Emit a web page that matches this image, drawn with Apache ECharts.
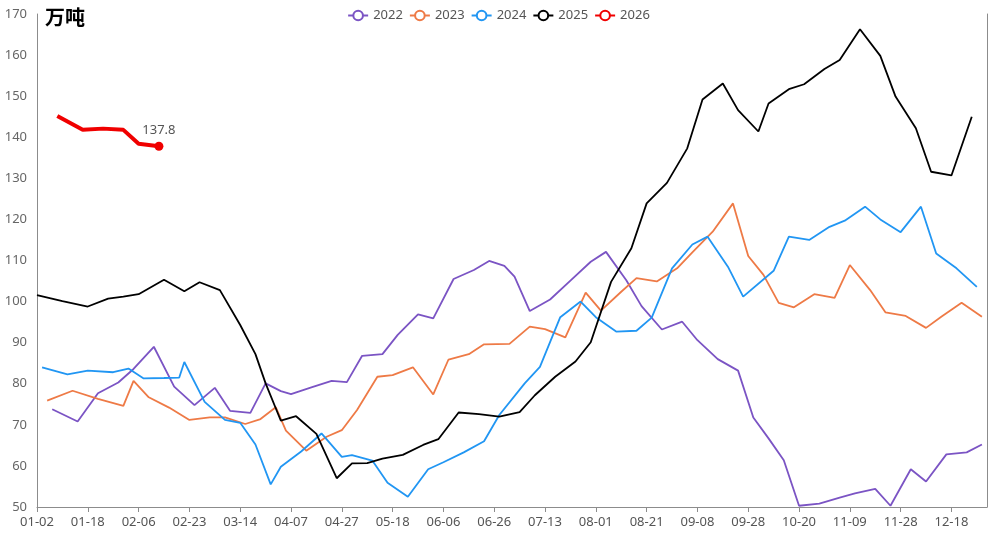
<!DOCTYPE html>
<html>
<head>
<meta charset="utf-8">
<script src="https://cdn.jsdelivr.net/npm/echarts@6/dist/echarts.min.js"></script>
<style>
html,body{margin:0;padding:0;background:#fff;}
#chart{width:997px;height:535px;}
</style>
</head>
<body>
<div id="chart"></div>
<script>
// ---- tick labels on the category axis (every 10th category) ----
const tickLabels = ['01-02','01-18','02-06','02-23','03-14','04-07','04-27','05-18','06-06','06-26',
  '07-13','08-01','08-21','09-08','09-28','10-20','11-09','11-28','12-18'];
const yearEnd = '12-31';
const CAT_COUNT = 188;
const LABEL_STEP = 10;

// ---- series: category positions and values ----
const idx2022 = [3,8,12,16,19,23,27,31,35,38,42,45,48,50,54,58,61,64,68,71,75,78,82,86,89,92,94,97,101,105,109,112,116,119,123,127,130,134,138,141,144,147,150,154,158,161,165,168,172,175,179,183,186];
const val2022 = [73.8,70.8,77.7,80.3,83.6,89.0,79.3,74.8,79.0,73.4,72.9,80.1,78.2,77.5,79.1,80.7,80.4,86.8,87.2,91.9,96.9,95.9,105.5,107.7,109.9,108.7,106.1,97.7,100.5,105.1,109.7,112.1,105.2,98.9,93.2,95.1,90.6,86.0,83.2,71.8,66.7,61.4,50.3,50.8,52.3,53.3,54.4,50.3,59.2,56.2,62.8,63.3,65.2];

const idx2023 = [2,7,12,17,19,22,26,30,34,37,41,44,47,49,53,57,60,63,67,70,74,78,81,85,88,93,97,100,104,108,111,115,118,122,126,129,133,137,140,143,146,149,153,157,160,164,167,171,175,178,182,186];
const val2023 = [75.9,78.3,76.3,74.6,80.7,76.7,74.2,71.2,71.8,71.8,70.2,71.4,74.3,68.6,63.7,67.1,68.7,73.6,81.7,82.1,84.0,77.4,85.9,87.2,89.6,89.7,93.9,93.3,91.3,102.2,97.8,102.4,105.7,104.9,108.1,112.0,117.0,123.9,111.1,106.5,99.7,98.6,101.8,100.9,108.9,102.8,97.4,96.5,93.6,96.3,99.7,96.3];

const idx2024 = [1,6,10,15,18,21,25,28,29,33,37,40,43,46,48,52,56,60,62,66,69,73,77,80,84,88,91,96,99,103,107,110,114,118,121,125,129,132,136,139,145,148,152,156,159,163,166,170,174,177,181,185];
const val2024 = [84.0,82.3,83.2,82.8,83.7,81.3,81.4,81.5,85.3,75.6,71.2,70.5,65.2,55.5,59.8,63.5,67.9,62.2,62.6,61.3,55.9,52.5,59.2,60.9,63.3,66.0,72.4,80.1,84.1,96.2,100.0,96.2,92.7,92.9,96.1,108.1,113.9,115.8,108.5,101.2,107.5,115.8,115.0,118.2,119.7,123.1,120.0,116.9,123.1,111.7,108.1,103.6];

const idx2025 = [0,5,10,14,17,20,25,29,32,36,40,43,45,48,51,55,59,62,65,68,72,76,79,83,87,91,95,98,102,106,109,113,117,120,124,128,131,135,138,142,144,148,151,155,158,162,166,169,173,176,180,184];
const val2025 = [101.6,100.1,98.8,100.7,101.2,101.8,105.3,102.5,104.7,102.8,94.3,87.2,80.1,71.0,72.1,67.8,57.0,60.6,60.7,61.8,62.7,65.1,66.5,73.0,72.6,72.0,73.1,77.2,81.7,85.4,90.1,104.8,113.0,123.9,128.9,137.3,149.2,153.1,146.6,141.4,148.2,151.7,152.9,156.6,158.8,166.3,159.8,149.9,142.2,131.6,130.7,145.0];

const idx2026 = [4,9,13,17,20,24];
const val2026 = [145.2,141.8,142.1,141.8,138.4,137.8];

const yearNames = ['2022','2023','2024','2025','2026'];
const yearColors = ['#7b54c4','#ee7a46','#2196f3','#000000','#f00000'];

// ---- build category list (dates between the labelled ticks) ----
function mmddToDay(s){const p=s.split('-').map(Number);return Date.UTC(2025,p[0]-1,p[1])/86400000;}
function dayToMmdd(n){const d=new Date(n*86400000);return String(d.getUTCMonth()+1).padStart(2,'0')+'-'+String(d.getUTCDate()).padStart(2,'0');}
const anchors = tickLabels.concat([yearEnd]);
const categories = [];
for (let i=0;i<CAT_COUNT;i++){
  const k=Math.floor(i/LABEL_STEP), r=i%LABEL_STEP;
  if (r===0){categories.push(tickLabels[k]);continue;}
  const a=mmddToDay(anchors[k]), b=mmddToDay(anchors[k+1]);
  categories.push(dayToMmdd(a+Math.round(r*(b-a)/LABEL_STEP)));
}

function pairs(idx,val){return idx.map((c,i)=>[categories[c],val[i]]);}

const FONT = '"Noto Sans","Noto Sans CJK SC",sans-serif';
const AXIS_COLOR = '#8c8c8c';

const seriesList = [
  {idx:idx2022,val:val2022},
  {idx:idx2023,val:val2023},
  {idx:idx2024,val:val2024},
  {idx:idx2025,val:val2025},
  {idx:idx2026,val:val2026}
].map((s,i)=>{
  const base = {
    name: yearNames[i],
    type: 'line',
    data: pairs(s.idx,s.val),
    symbol: 'emptyCircle',
    showSymbol: false,
    connectNulls: true,
    color: yearColors[i],
    lineStyle: {width: 1.8, color: yearColors[i]},
    emphasis: {disabled: true},
    z: 2 + i
  };
  if (i===4){
    base.lineStyle.width = 4;
    base.showSymbol = true;
    base.showAllSymbol = true;
    base.symbolSize = 9;
    const last = base.data.length-1;
    base.data = base.data.map((d,j)=> j===last ? {
      value: d,
      symbol: 'circle',
      symbolSize: 9,
      itemStyle: {color: yearColors[i]},
      label: {show: true, position: 'top', distance: 5, color: '#555', fontSize: 13, fontFamily: FONT,
        formatter: p => p.value[1].toFixed(1)}
    } : {value: d, symbol: 'none'});
  }
  return base;
});

const chart = echarts.init(document.getElementById('chart'), null, {renderer:'canvas'});
chart.setOption({
  animation: false,
  backgroundColor: '#fff',
  title: {text: '万吨', left: 40, top: 4,
    textStyle: {fontSize: 20, fontWeight: 'bold', color: '#000', fontFamily: FONT}},
  legend: {
    data: yearNames, top: 4, left: 'center', itemGap: 6, itemWidth: 20, itemHeight: 12,
    textStyle: {fontSize: 13, color: '#555', fontFamily: FONT}
  },
  tooltip: {trigger: 'axis'},
  grid: {left: 37, right: 10, top: 14, bottom: 28, containLabel: false},
  xAxis: {
    type: 'category', data: categories, boundaryGap: false,
    axisLine: {show: true, lineStyle: {color: AXIS_COLOR}},
    axisTick: {show: true, interval: LABEL_STEP-1, length: 5, lineStyle: {color: AXIS_COLOR}},
    axisLabel: {interval: LABEL_STEP-1, color: '#555', fontSize: 13, margin: 9, fontFamily: FONT},
    splitLine: {show: false}
  },
  yAxis: [{
    type: 'value', min: 50, max: 170, interval: 10,
    axisLine: {show: true, lineStyle: {color: AXIS_COLOR}},
    axisTick: {show: false},
    axisLabel: {color: '#666', fontSize: 13, margin: 10, fontFamily: FONT},
    splitLine: {show: false}
  },{
    type: 'value', min: 50, max: 170, interval: 10, position: 'right',
    axisLine: {show: true, lineStyle: {color: AXIS_COLOR}},
    axisTick: {show: false}, axisLabel: {show: false}, splitLine: {show: false}
  }],
  series: seriesList
});
</script>
</body>
</html>
